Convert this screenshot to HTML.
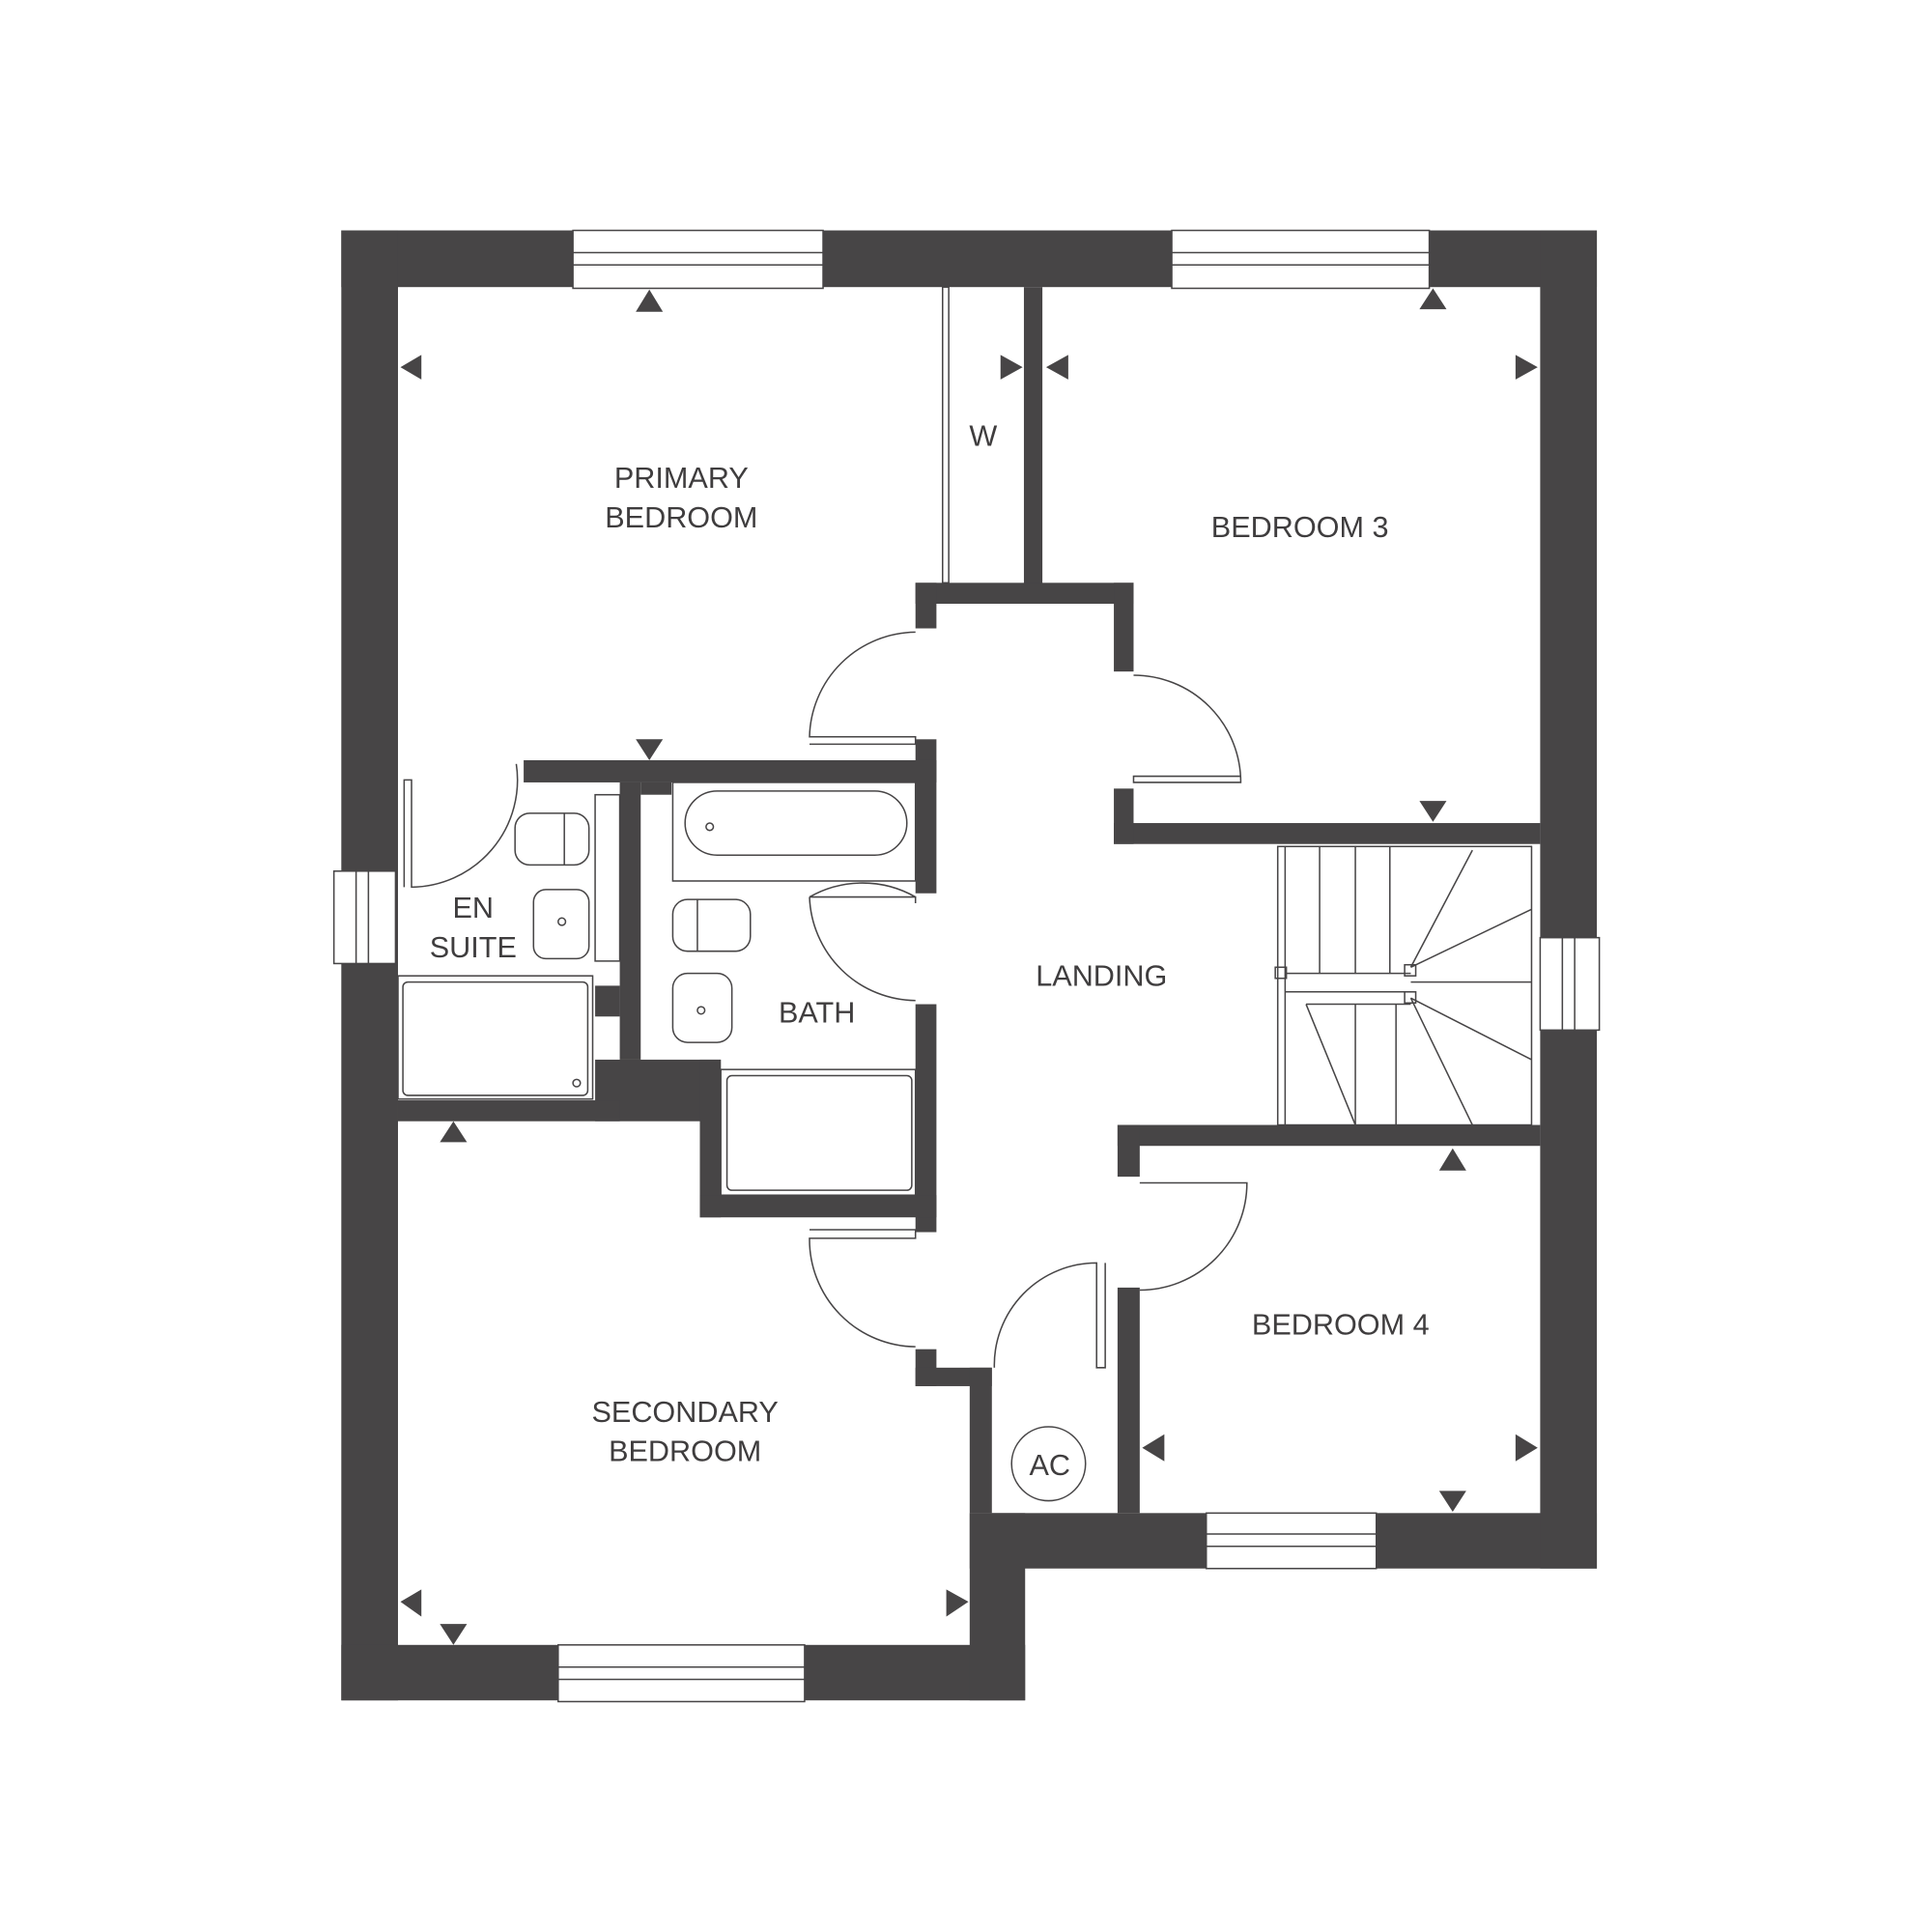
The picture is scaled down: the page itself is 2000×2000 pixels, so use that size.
<!DOCTYPE html>
<html><head><meta charset="utf-8"><style>html,body{margin:0;padding:0;background:#fff}svg{display:block}</style></head><body>
<svg width="2000" height="2000" viewBox="0 0 1568 1568" xmlns="http://www.w3.org/2000/svg">
<rect width="1568" height="1568" fill="#fff"/>
<g fill="#474546">
<!-- outer walls -->
<rect x="277" y="187" width="1019" height="46"/>
<rect x="277" y="187" width="46" height="1193"/>
<rect x="277" y="1335" width="555" height="45"/>
<rect x="787" y="1228" width="45" height="152"/>
<rect x="787" y="1228" width="509" height="45"/>
<rect x="1250" y="187" width="46" height="1086"/>
<!-- interior -->
<rect x="831" y="233" width="15" height="245"/>
<rect x="743" y="473" width="177" height="17"/>
<rect x="743" y="473" width="17" height="37"/>
<rect x="904" y="473" width="16" height="72"/>
<rect x="904" y="668" width="346" height="17"/>
<rect x="904" y="640" width="16" height="45"/>
<rect x="743" y="600" width="17" height="125"/>
<rect x="743" y="815" width="17" height="185"/>
<rect x="425" y="617" width="335" height="18"/>
<rect x="503" y="635" width="17" height="225"/>
<rect x="520" y="635" width="25" height="10"/>
<rect x="483" y="800" width="20" height="25"/>
<rect x="483" y="860" width="102" height="50"/>
<rect x="568" y="860" width="17" height="128"/>
<rect x="568" y="970" width="192" height="18"/>
<rect x="323" y="893" width="180" height="17"/>
<rect x="743" y="1095" width="17" height="30"/>
<rect x="743" y="1110" width="62" height="15"/>
<rect x="787" y="1110" width="18" height="118"/>
<rect x="907" y="1045" width="18" height="183"/>
<rect x="907" y="913" width="343" height="17"/>
<rect x="907" y="913" width="18" height="42"/>
</g>
<!-- windows -->
<g fill="#fff" stroke="#474546" stroke-width="1.2">
<rect x="465" y="187" width="203" height="47"/><line x1="465" y1="205" x2="668" y2="205"/><line x1="465" y1="215" x2="668" y2="215"/>
<rect x="951" y="187" width="209" height="47"/><line x1="951" y1="205" x2="1160" y2="205"/><line x1="951" y1="215" x2="1160" y2="215"/>
<rect x="453" y="1335" width="200" height="46"/><line x1="453" y1="1353" x2="653" y2="1353"/><line x1="453" y1="1363" x2="653" y2="1363"/>
<rect x="979" y="1228" width="138" height="45"/><line x1="979" y1="1245" x2="1117" y2="1245"/><line x1="979" y1="1255" x2="1117" y2="1255"/>
<rect x="271" y="707" width="50" height="75"/><line x1="289" y1="707" x2="289" y2="782"/><line x1="299" y1="707" x2="299" y2="782"/>
<rect x="1250" y="761" width="48" height="75"/><line x1="1268" y1="761" x2="1268" y2="836"/><line x1="1278" y1="761" x2="1278" y2="836"/>
</g>
<!-- doors -->
<g fill="none" stroke="#474546" stroke-width="1.2">
<rect x="765" y="233" width="5" height="240"/>
<path d="M743 513 A87 87 0 0 0 657 598 L743 598 L743 604 L657 604"/>
<path d="M920 548 A87 87 0 0 1 1007 635 L920 635 L920 630 L1007 630"/>
<path d="M743 728 A87 87 0 0 0 657 728 M657 728 L743 728 L743 733"/>
<path d="M743 812 A87 87 0 0 1 657 728"/>
<path d="M743 1093 A87 87 0 0 1 657 1005 L743 1005 L743 998 L657 998"/>
<path d="M925 960 L1012 960 A87 87 0 0 1 925 1047"/>
<path d="M807 1110 A83 83 0 0 1 890 1025 L890 1110 L897 1110 L897 1025"/>
<path d="M419 620 A87 87 0 0 1 334 720 L334 633 L328 633 L328 720"/>
<!-- stairs -->
<rect x="1037" y="687" width="206" height="226"/>
<line x1="1043" y1="687" x2="1043" y2="913"/>
<line x1="1071" y1="687" x2="1071" y2="790"/><line x1="1100" y1="687" x2="1100" y2="790"/><line x1="1128" y1="687" x2="1128" y2="790"/>
<line x1="1043" y1="790" x2="1145" y2="790"/><line x1="1043" y1="805" x2="1145" y2="805"/>
<line x1="1145" y1="785" x2="1195" y2="690"/><line x1="1145" y1="785" x2="1243" y2="738"/><line x1="1145" y1="797" x2="1243" y2="797"/>
<line x1="1145" y1="810" x2="1243" y2="860"/><line x1="1145" y1="810" x2="1195" y2="913"/>
<line x1="1100" y1="815" x2="1100" y2="913"/><line x1="1133" y1="815" x2="1133" y2="913"/>
<line x1="1060" y1="815" x2="1100" y2="913"/><line x1="1060" y1="815" x2="1145" y2="815"/>
<rect x="1140" y="783" width="9" height="9"/><rect x="1140" y="805" width="9" height="9"/><rect x="1035" y="785" width="9" height="9"/>
<!-- bath fixtures -->
<rect x="546" y="635" width="197" height="80"/>
<rect x="556" y="642" width="180" height="52" rx="26"/>
<circle cx="576" cy="671" r="3"/>
<rect x="546" y="730" width="63" height="42" rx="12"/><line x1="566" y1="730" x2="566" y2="772"/>
<rect x="546" y="790" width="48" height="56" rx="12"/><circle cx="569" cy="820" r="3"/>
<rect x="585" y="868" width="158" height="102"/><rect x="590" y="873" width="150" height="93" rx="4"/>
<!-- ensuite -->
<rect x="483" y="645" width="20" height="135"/>
<rect x="418" y="660" width="60" height="42" rx="12"/><line x1="458" y1="660" x2="458" y2="702"/>
<rect x="433" y="722" width="45" height="56" rx="10"/><circle cx="456" cy="748" r="3"/>
<rect x="323" y="792" width="158" height="100"/><rect x="327" y="797" width="150" height="92" rx="4"/><circle cx="468" cy="879" r="3"/>
<circle cx="851" cy="1188" r="30"/>
</g>
<!-- arrows -->
<g fill="#474546">
<polygon points="516,253 538,253 527,235"/>
<polygon points="325,298 342,288 342,308"/>
<polygon points="830,298 812,288 812,308"/>
<polygon points="849,298 867,288 867,308"/>
<polygon points="1152,251 1174,251 1163,234"/>
<polygon points="1248,298 1230,288 1230,308"/>
<polygon points="516,600 538,600 527,617"/>
<polygon points="1152,650 1174,650 1163,667"/>
<polygon points="357,927 379,927 368,910"/>
<polygon points="1168,950 1190,950 1179,932"/>
<polygon points="927,1175 945,1164 945,1186"/>
<polygon points="1248,1175 1230,1164 1230,1186"/>
<polygon points="1168,1210 1190,1210 1179,1227"/>
<polygon points="325,1300 342,1290 342,1312"/>
<polygon points="786,1300 768,1290 768,1312"/>
<polygon points="357,1318 379,1318 368,1335"/>
</g>
<g font-family="'Liberation Sans',sans-serif" font-size="24" fill="#3f3d3e" text-anchor="middle">
<text x="553" y="396">PRIMARY</text><text x="553" y="428">BEDROOM</text>
<text x="798" y="362">W</text>
<text x="1055" y="436">BEDROOM 3</text>
<text x="384" y="745">EN</text><text x="384" y="777">SUITE</text>
<text x="663" y="830">BATH</text>
<text x="894" y="800">LANDING</text>
<text x="1088" y="1083">BEDROOM 4</text>
<text x="556" y="1154">SECONDARY</text><text x="556" y="1186">BEDROOM</text>
<text x="852" y="1197">AC</text>
</g>
</svg>
</body></html>
